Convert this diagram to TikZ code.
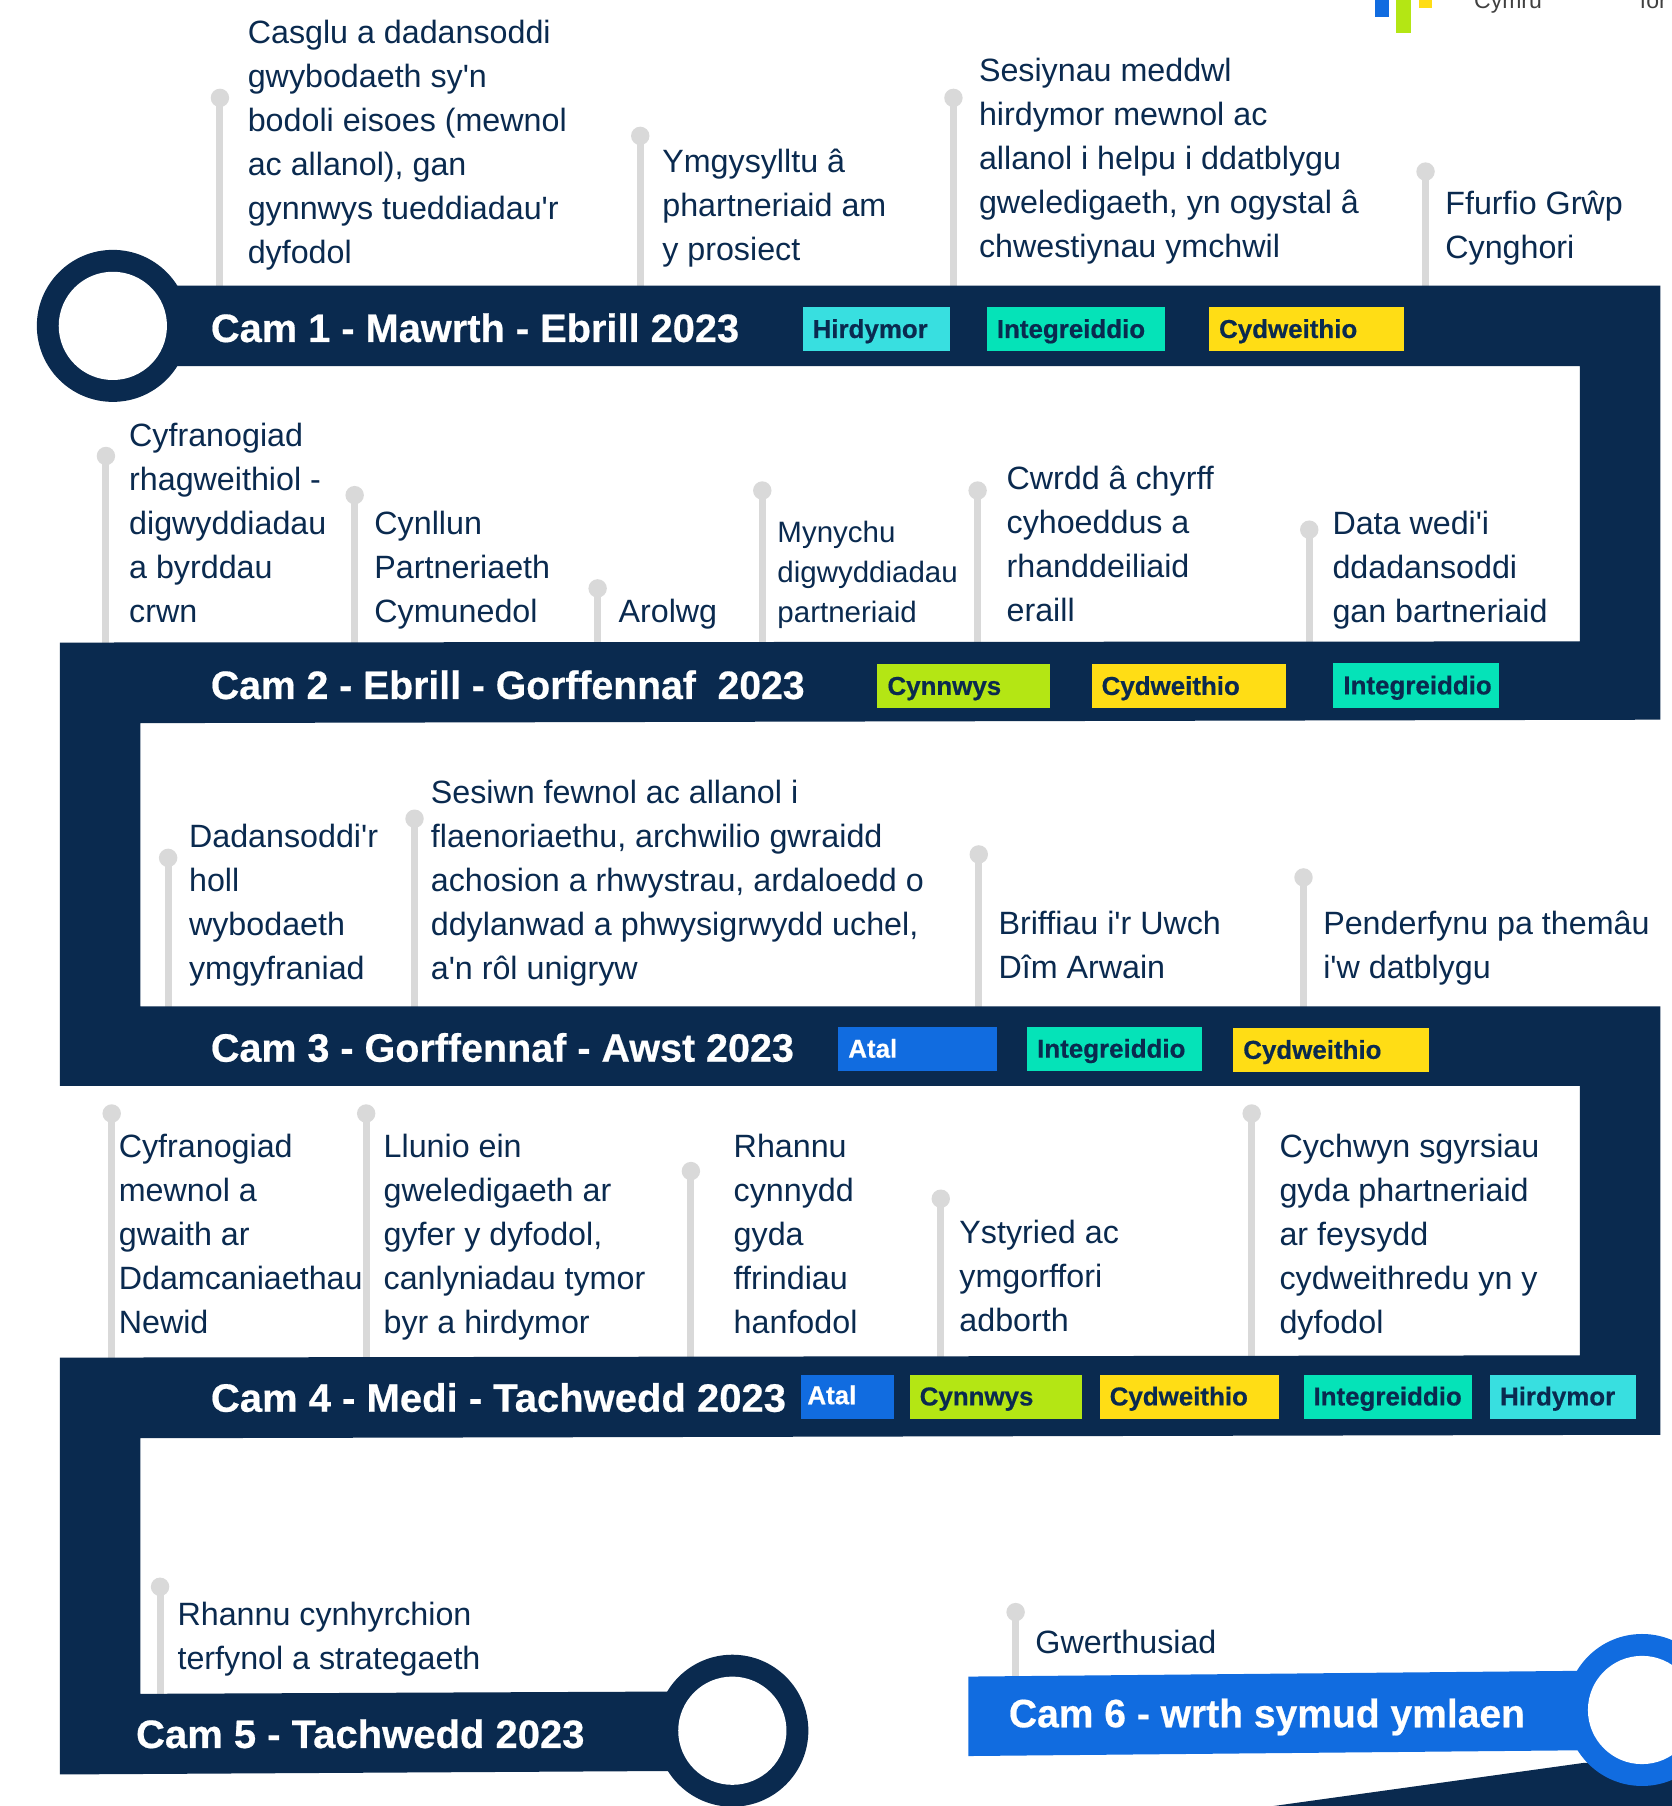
\documentclass[tikz,border=0pt]{standalone}
\usepackage{fontspec}
\newfontfamily\bodyfam{Liberation Sans}
\newfontfamily\headfam{Liberation Sans Bold}[FakeBold=0.5]
\definecolor{navy}{HTML}{0A2A4F}
\definecolor{tagblue}{HTML}{116CE0}
\definecolor{taglime}{HTML}{B4E614}
\definecolor{tagyellow}{HTML}{FFDD15}
\definecolor{tagteal}{HTML}{05E3B8}
\definecolor{tagcyan}{HTML}{38DFE0}
\definecolor{stemgray}{HTML}{D9D9D9}
\tikzset{
  bodytext/.style={anchor=north west,inner sep=0pt,align=left,text=navy,font=\bodyfam\fontsize{28}{38.2}\selectfont},
  smalltext/.style={anchor=north west,inner sep=0pt,align=left,text=navy,font=\bodyfam\fontsize{25.6}{35}\selectfont},
  headtext/.style={anchor=base west,inner sep=0pt,text=white,font=\headfam\fontsize{34.4}{40}\selectfont},
  tagtext/.style={anchor=base west,inner sep=0pt,text=navy,font=\headfam\fontsize{22.5}{26}\selectfont},
  stemline/.style={draw=stemgray,line width=6pt},
  stemdot/.style={circle,fill=stemgray,inner sep=0pt,minimum size=16pt},
  logotext/.style={anchor=base west,inner sep=0pt,text=black!75,font=\bodyfam\fontsize{20}{24}\selectfont}
}
\newcommand{\stemat}[4]{% name, x, dot y, bottom y
  \coordinate (#1b) at (#2,#4);
  \node[stemdot] (#1) at (#2,#3) {};
  \draw[stemline] (#1.center) -- (#1b);
}
\newcommand{\txt}[4]{\node[bodytext] (#1) at (#2,{#3-17}) {\strut #4};}
\newcommand{\tagbox}[7]{% name, x1, x2, y1, y2, colour, text
  \fill[#6] (#2,#4) rectangle (#3,#5);
  \node[tagtext] (#1) at ({#2+8.5},{(#4+#5)/2+7.5}) {#7};
}
\newcommand{\headat}[5]{% name, x, baseline y, x stretch, text
  \node[headtext] (#1) at (#2,#3) {\scalebox{#4}[1]{#5}};
}
\begin{document}
\begin{tikzpicture}[x=1pt,y=-1pt]
\useasboundingbox (0,0) rectangle (1452,1568.4);
\fill[white] (0,0) rectangle (1452,1568.4);
% logo fragment
\fill[tagblue] (1194,0) rectangle (1206,14.5);
\fill[taglime] (1212,0) rectangle (1225,29);
\fill[tagyellow] (1232,0) rectangle (1243.5,7);
\node[logotext] (logoa) at (1280,7) {Cymru};
\node[logotext] (logob) at (1424,7) {for};
% stems
\stemat{a1}{191}{85}{250}
\stemat{a2}{556}{118}{250}
\stemat{a3}{828}{85}{250}
\stemat{a4}{1238}{149}{250}
\stemat{b1}{92}{396}{560}
\stemat{b2}{308}{430}{560}
\stemat{b3}{519}{511}{560}
\stemat{b4}{662}{426}{560}
\stemat{b5}{849}{426}{560}
\stemat{b6}{1137}{460}{560}
\stemat{c1}{146}{745}{876}
\stemat{c2}{360}{711}{876}
\stemat{c3}{850}{742}{876}
\stemat{c4}{1132}{762}{876}
\stemat{d1}{97}{967}{1181}
\stemat{d2}{318}{967}{1181}
\stemat{d3}{600}{1017}{1181}
\stemat{d4}{817}{1041}{1181}
\stemat{d5}{1087}{967}{1181}
\stemat{e1}{139}{1378}{1473}
\stemat{f1}{882}{1400}{1458}
% winding band
\fill[navy] (150,248) -- (1442,248) -- (1442,625) -- (122,628) -- (122,874) -- (1442,874)
  -- (1442,1246) -- (122,1249) -- (122,1471) -- (580,1469) -- (580,1538) -- (52,1541)
  -- (52,1179) -- (1372,1177) -- (1372,943) -- (52,943) -- (52,558) -- (1372,557)
  -- (1372,318) -- (150,318) -- cycle;
% rings
\fill[navy] (98,283) circle[radius=66pt];
\fill[white] (98,283) circle[radius=47pt];
\fill[navy] (636,1503) circle[radius=66pt];
\fill[white] (636,1503) circle[radius=47pt];
% dark wedge and Cam 6
\fill[navy] (1106,1568.4) -- (1375,1531) -- (1452,1531) -- (1452,1568.4) -- cycle;
\fill[tagblue] (841,1456) -- (1372,1451) -- (1372,1520) -- (841,1525) -- cycle;
\fill[tagblue] (1426,1485) circle[radius=66pt];
\fill[white] (1426,1485) circle[radius=47pt];
% headings
\headat{h1}{183}{297}{1.004}{Cam 1 - Mawrth - Ebrill 2023}
\headat{h2}{183}{607}{0.988}{Cam 2 - Ebrill - Gorffennaf\ \ 2023}
\headat{h3}{183}{922}{0.997}{Cam 3 - Gorffennaf - Awst 2023}
\headat{h4}{183}{1226}{1.01}{Cam 4 - Medi - Tachwedd 2023}
\headat{h5}{118}{1518}{1.01}{Cam 5 - Tachwedd 2023}
\headat{h6}{876}{1500}{0.985}{Cam 6 - wrth symud ymlaen}
% tags
\tagbox{t11}{697}{825}{267}{305}{tagcyan}{Hirdymor}
\tagbox{t12}{857}{1012}{267}{305}{tagteal}{Integreiddio}
\tagbox{t13}{1050}{1219}{267}{305}{tagyellow}{Cydweithio}
\tagbox{t21}{762}{912}{577}{615}{taglime}{Cynnwys}
\tagbox{t22}{948}{1117}{577}{615}{tagyellow}{Cydweithio}
\tagbox{t23}{1158}{1302}{576}{615}{tagteal}{Integreiddio}
\tagbox{t31}{728}{866}{892}{930}{tagblue}{\textcolor{white}{Atal}}
\tagbox{t32}{892}{1044}{892}{930}{tagteal}{Integreiddio}
\tagbox{t33}{1071}{1241}{893}{931}{tagyellow}{Cydweithio}
\tagbox{t41}{696}{776}{1194}{1232}{tagblue}{\hspace*{-3.5pt}\textcolor{white}{\raisebox{1pt}{Atal}}}
\tagbox{t42}{790}{940}{1194}{1232}{taglime}{Cynnwys}
\tagbox{t43}{955}{1111}{1194}{1232}{tagyellow}{Cydweithio}
\tagbox{t44}{1132}{1278}{1194}{1232}{tagteal}{Integreiddio}
\tagbox{t45}{1294}{1421}{1194}{1232}{tagcyan}{Hirdymor}
% texts
\txt{x1}{215}{28}{Casglu a dadansoddi\\gwybodaeth sy'n\\bodoli eisoes (mewnol\\ac allanol), gan\\gynnwys tueddiadau'r\\dyfodol}
\txt{x2}{575}{140}{Ymgysylltu â\\phartneriaid am\\y prosiect}
\txt{x3}{850}{61}{Sesiynau meddwl\\hirdymor mewnol ac\\allanol i helpu i ddatblygu\\gweledigaeth, yn ogystal â\\chwestiynau ymchwil}
\txt{x4}{1255}{176}{Ffurfio Grŵp\\Cynghori}
\txt{x5}{112}{378}{Cyfranogiad\\rhagweithiol -\\digwyddiadau\\a byrddau\\crwn}
\txt{x6}{325}{454}{Cynllun\\Partneriaeth\\Cymunedol}
\txt{x7}{537}{531}{Arolwg}
\node[smalltext] (x8) at (675,446) {\strut Mynychu\\digwyddiadau\\partneriaid};
\txt{x9}{874}{415}{Cwrdd â chyrff\\cyhoeddus a\\rhanddeiliaid\\eraill}
\txt{x10}{1157}{454}{Data wedi'i\\ddadansoddi\\gan bartneriaid}
\txt{x11}{164}{726}{Dadansoddi'r\\holl\\wybodaeth\\ymgyfraniad}
\txt{x12}{374}{688}{Sesiwn fewnol ac allanol i\\flaenoriaethu, archwilio gwraidd\\achosion a rhwystrau, ardaloedd o\\ddylanwad a phwysigrwydd uchel,\\a'n rôl unigryw}
\txt{x13}{867}{802}{Briffiau i'r Uwch\\Dîm Arwain}
\txt{x14}{1149}{802}{Penderfynu pa themâu\\i'w datblygu}
\txt{x15}{103}{995}{Cyfranogiad\\mewnol a\\gwaith ar\\Ddamcaniaethau\\Newid}
\txt{x16}{333}{995}{Llunio ein\\gweledigaeth ar\\gyfer y dyfodol,\\canlyniadau tymor\\byr a hirdymor}
\txt{x17}{637}{995}{Rhannu\\cynnydd\\gyda\\ffrindiau\\hanfodol}
\txt{x18}{833}{1070}{Ystyried ac\\ymgorffori\\adborth}
\txt{x19}{1111}{995}{Cychwyn sgyrsiau\\gyda phartneriaid\\ar feysydd\\cydweithredu yn y\\dyfodol}
\txt{x20}{154}{1402}{Rhannu cynhyrchion\\terfynol a strategaeth}
\txt{x21}{899}{1426}{Gwerthusiad}
\end{tikzpicture}
\end{document}
